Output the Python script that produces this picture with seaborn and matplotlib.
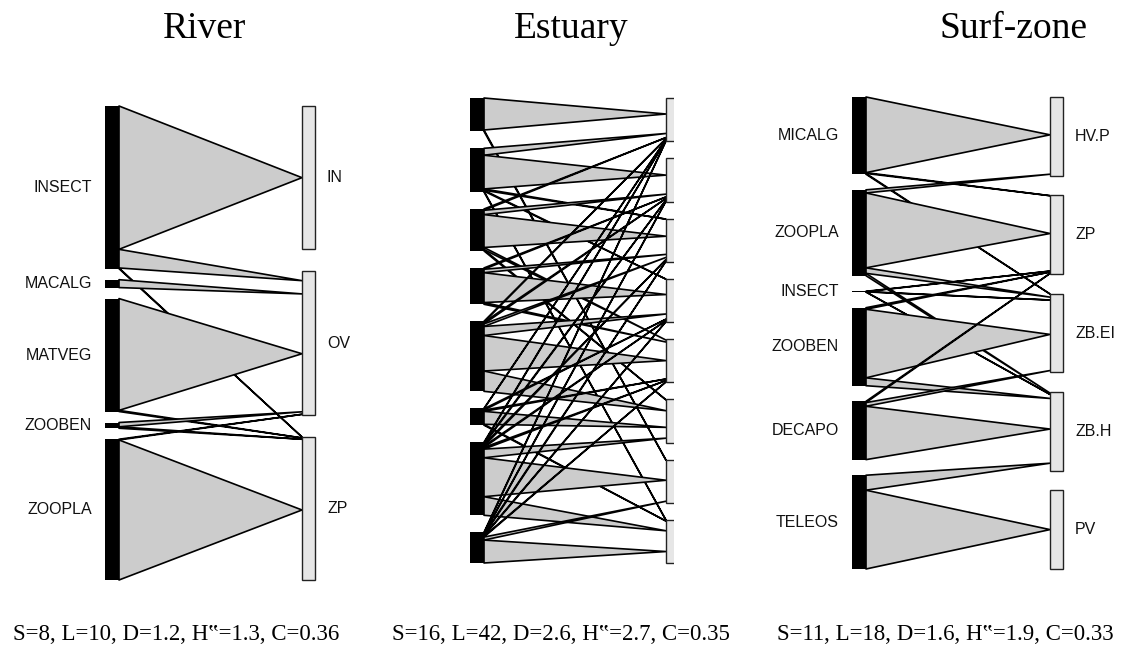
import matplotlib
matplotlib.use("Agg")
import matplotlib.pyplot as plt
from matplotlib.patches import Polygon, Rectangle
import pandas as pd
import seaborn as sns

# ---------------- data ----------------
river_prey = ["INSECT", "MACALG", "MATVEG", "ZOOBEN", "ZOOPLA"]
river_guilds = ["IN", "OV", "ZP"]
river_diet = [
    [1.000, 0.130, 0.005],
    [0.000, 0.055, 0.000],
    [0.000, 0.780, 0.008],
    [0.000, 0.030, 0.010],
    [0.000, 0.005, 0.977],
]
river_stats = ["S=8", "L=10", "D=1.2", "H\u201f=1.3", "C=0.36"]

estuary_prey = ["P1", "P2", "P3", "P4", "P5", "P6", "P7", "P8"]
estuary_guilds = ["G1", "G2", "G3", "G4", "G5", "G6", "G7", "G8"]
estuary_diet = [
    [0.74, 0.00, 0.00, 0.00, 0.00, 0.00, 0.03, 0.00],
    [0.16, 0.78, 0.03, 0.02, 0.00, 0.00, 0.00, 0.02],
    [0.03, 0.10, 0.76, 0.00, 0.05, 0.03, 0.00, 0.00],
    [0.00, 0.03, 0.08, 0.69, 0.04, 0.00, 0.00, 0.00],
    [0.02, 0.04, 0.06, 0.21, 0.82, 0.47, 0.00, 0.00],
    [0.01, 0.00, 0.00, 0.03, 0.03, 0.30, 0.00, 0.02],
    [0.02, 0.03, 0.04, 0.03, 0.04, 0.20, 0.90, 0.43],
    [0.02, 0.02, 0.03, 0.02, 0.02, 0.00, 0.07, 0.53],
]
estuary_stats = ["S=16", "L=42", "D=2.6", "H\u201f=2.7", "C=0.35"]

surf_prey = ["MICALG", "ZOOPLA", "INSECT", "ZOOBEN", "DECAPO", "TELEOS"]
surf_guilds = ["HV.P", "ZP", "ZB.EI", "ZB.H", "PV"]
surf_diet = [
    [0.96, 0.010, 0.010, 0.000, 0.0],
    [0.04, 0.950, 0.070, 0.030, 0.0],
    [0.00, 0.004, 0.003, 0.003, 0.0],
    [0.00, 0.020, 0.870, 0.100, 0.0],
    [0.00, 0.016, 0.047, 0.677, 0.0],
    [0.00, 0.000, 0.000, 0.190, 1.0],
]
surf_stats = ["S=11", "L=18", "D=1.6", "H\u201f=1.9", "C=0.33"]

# ---------------- style ----------------
sns.set_theme(style="white")
plt.rcParams["font.family"] = ["Liberation Sans", "DejaVu Sans"]

W, H = 1145, 651
fig = plt.figure(figsize=(W / 100, H / 100), dpi=100)
fig.patch.set_facecolor("white")

SERIF = ["Liberation Serif", "DejaVu Serif"]


def draw_web(ax_x0, ax_x1, prey, guilds, diet, title, stats,
             x_bar, x_box, top, bot, gap_r, title_x, stats_x, labels=True):
    ax = fig.add_axes([ax_x0 / W, 0, (ax_x1 - ax_x0) / W, 1])
    ax.set_xlim(ax_x0, ax_x1)
    ax.set_ylim(H, 0)
    ax.axis("off")
    sns.despine(ax=ax, left=True, bottom=True)

    df = pd.DataFrame(diet, index=prey, columns=guilds)
    col_sum = df.sum(axis=0)
    row_sum = df.sum(axis=1)
    span = bot - top
    nr, nl = len(guilds), len(prey)
    unit = (span - (nr - 1) * gap_r) / col_sum.sum()
    gap_l = (span - unit * row_sum.sum()) / (nl - 1)

    bar_w, box_w = 14, 13
    xl = x_bar + bar_w

    # right boxes
    r_top = {}
    y = top
    for g in guilds:
        r_top[g] = y
        y += col_sum[g] * unit + gap_r
    # left bars
    l_top = {}
    y = top
    for p in prey:
        l_top[p] = y
        y += row_sum[p] * unit + gap_l

    # left segments
    seg = {}
    for p in prey:
        y = l_top[p]
        for g in guilds:
            w = df.loc[p, g]
            if w > 0:
                seg[(p, g)] = (y, y + w * unit)
                y += w * unit
    # apex on right
    apex = {}
    for g in guilds:
        y = r_top[g]
        for p in prey:
            w = df.loc[p, g]
            if w > 0:
                apex[(p, g)] = y + w * unit / 2
                y += w * unit

    for (p, g), (s0, s1) in seg.items():
        tri = Polygon([(xl, s0), (xl, s1), (x_box, apex[(p, g)])], closed=True,
                      facecolor="#cccccc", edgecolor="black", lw=1.2,
                      joinstyle="round", zorder=1)
        ax.add_patch(tri)

    for g in guilds:
        ax.add_patch(Rectangle((x_box, r_top[g]), box_w, col_sum[g] * unit,
                               facecolor="#e6e6e6", edgecolor="#222222",
                               lw=1.0, zorder=2))
        if labels:
            ax.text(x_box + box_w + 12, r_top[g] + col_sum[g] * unit / 2, g,
                    ha="left", va="center", fontsize=11.5, color="#111111")
    for p in prey:
        h = max(row_sum[p] * unit, 1.2)
        ax.add_patch(Rectangle((x_bar, l_top[p] + row_sum[p] * unit / 2 - h / 2),
                               bar_w, h, facecolor="black", edgecolor="none",
                               zorder=3))
        if labels:
            ax.text(x_bar - 13, l_top[p] + row_sum[p] * unit / 2, p,
                    ha="right", va="center", fontsize=11.5, color="#111111")

    ax.text(title_x, 38, title, ha="center", va="baseline", fontsize=27,
            family=SERIF, color="black", clip_on=False)
    ax.text(stats_x, 640, ", ".join(stats), ha="center", va="baseline",
            fontsize=16.5, family=SERIF, color="black", clip_on=False)
    return ax


draw_web(0, 380, river_prey, river_guilds, river_diet, "River", river_stats,
         x_bar=105, x_box=302, top=106, bot=580, gap_r=22,
         title_x=205, stats_x=176)
draw_web(380, 674, estuary_prey, estuary_guilds, estuary_diet, "Estuary",
         estuary_stats, x_bar=470, x_box=666, top=98, bot=563, gap_r=17,
         title_x=571, stats_x=561, labels=False)
draw_web(674, 1145, surf_prey, surf_guilds, surf_diet, "Surf-zone", surf_stats,
         x_bar=852, x_box=1050, top=97, bot=569, gap_r=19.5,
         title_x=1013, stats_x=945)

fig.savefig("out.png", dpi=100, facecolor="white")
